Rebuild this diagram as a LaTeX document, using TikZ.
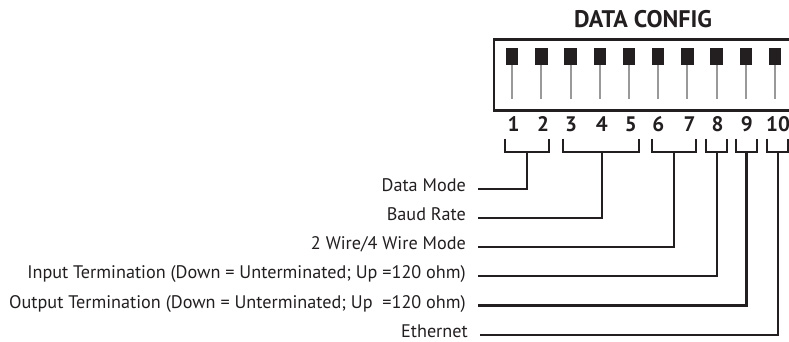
\documentclass[tikz,border=0pt]{standalone}
\usepackage{fontspec}
\setmainfont{PT Sans}
\definecolor{ink}{HTML}{231F20}
\definecolor{stemgray}{HTML}{999999}
\begin{document}
\begin{tikzpicture}[x=1pt,y=-1pt,
  lbl/.style={anchor=base east, inner sep=0pt, font=\fontsize{18.2}{21}\selectfont, text=ink},
  num/.style={anchor=base, inner sep=0pt, font=\bfseries\fontsize{21}{24}\selectfont, text=ink},
  ttl/.style={anchor=base, inner sep=0pt, font=\bfseries\fontsize{24}{28}\selectfont, text=ink},
  knob/.style={fill=ink, minimum width=12.5pt, minimum height=17pt, inner sep=0pt, draw=none},
  lever/.style={draw=stemgray, line width=2pt},
  wire/.style={draw=ink, line width=2.1pt},
]
\useasboundingbox (0,0) rectangle (789,342);
% title
\node[ttl] (title) at (643,28) {DATA CONFIG};
% switch housing
\draw[ink, line width=2.5pt] (494,39.5) rectangle (805,110.5);
% switches
\foreach \i/\x in {1/512,2/541.3,3/570.5,4/599.8,5/629,6/658.2,7/687.4,8/716.6,9/745.8,10/775}{
  \node[knob] (k\i) at (\x,56.7) {};
  \coordinate (s\i) at (\x,99.3);
  \draw[lever] (k\i.south) -- (s\i);
}
% numbers
\foreach \i/\x in {1/513.5,2/543,3/571,4/601.7,5/630.8,6/658.3,7/689.5,8/717.5,9/746.7,10/778}{
  \node[num] (n\i) at (\x,131.5) {\i};
}
% brackets
\draw[wire] (505,138.5) |- (549,152) -- (549,138.5);
\draw[wire] (563,138.5) |- (639,152) -- (639,138.5);
\draw[wire] (652,138.5) |- (696,152) -- (696,138.5);
\draw[wire] (706,138.5) |- (727,152) -- (727,138.5);
\draw[wire] (736,138.5) |- (757,152) -- (757,138.5);
\draw[wire] (767,138.5) |- (788,152) -- (788,138.5);
\coordinate (b1) at (527.3,152);
\coordinate (b2) at (601.7,152);
\coordinate (b3) at (673.7,152);
\coordinate (b4) at (717,152);
\coordinate (b5) at (746.5,152);
\coordinate (b6) at (778,152);
% labels
\node[lbl] (l1) at (466,191.5) {Data Mode};
\node[lbl] (l2) at (466,220.5) {Baud Rate};
\node[lbl] (l3) at (466,249.5) {2 Wire/4 Wire Mode};
\node[lbl] (l4) at (466,278.5) {Input Termination (Down = Unterminated; Up =120 ohm)};
\node[lbl] (l5) at (466,308) {Output Termination (Down = Unterminated; Up\ \ =120 ohm)};
\node[lbl] (l6) at (468,337.5) {Ethernet};
% line ends
\coordinate (e1) at (477.5,189);
\coordinate (e2) at (477.5,218);
\coordinate (e3) at (477.5,247);
\coordinate (e4) at (477.5,276);
\coordinate (e5) at (477.5,305.5);
\coordinate (e6) at (480,335);
% connectors
\foreach \j in {1,...,6}{
  \draw[wire] (b\j) |- (e\j);
}
\end{tikzpicture}
\end{document}
